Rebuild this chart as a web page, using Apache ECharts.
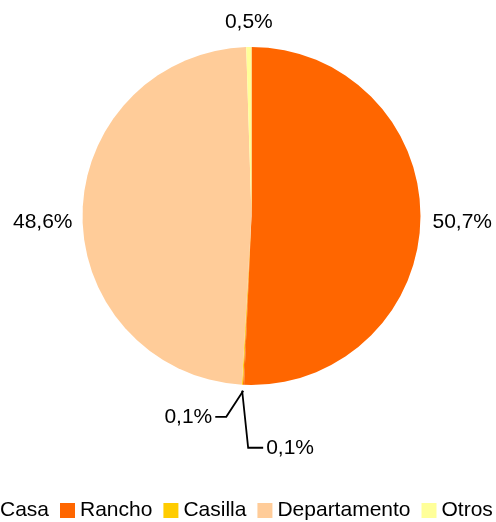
<!DOCTYPE html>
<html>
<head>
<meta charset="utf-8">
<script src="https://cdn.jsdelivr.net/npm/echarts@6/dist/echarts.min.js"></script>
<style>
  html, body { margin: 0; padding: 0; background: #fff; }
  #chart { width: 496px; height: 522px; }
</style>
</head>
<body>
<div id="chart"></div>
<script>
// tipo de vivienda (%)
var categorias = ['Casa', 'Rancho', 'Casilla', 'Departamento', 'Otros'];
var porcentajes = [50.7, 0.1, 0.1, 48.6, 0.5];
var colores = ['#FF6600', '#FF6600', '#FFCC00', '#FFCC99', '#FFFF99'];

var centro = [251.5, 216];
var radio = 169;

// punto en el borde, a la mitad del sector i
function puntoMedio(i, extra) {
  var total = 0, antes = 0;
  porcentajes.forEach(function (v, k) {
    total += v;
    if (k < i) antes += v;
  });
  var ang = (antes + porcentajes[i] / 2) / total * 2 * Math.PI;
  var r = radio + (extra || 0);
  return [centro[0] + r * Math.sin(ang), centro[1] - r * Math.cos(ang)];
}

var myChart = echarts.init(document.getElementById('chart'), null, { renderer: 'canvas' });

var datos = categorias.map(function (nombre, i) {
  var item = {
    name: nombre,
    value: porcentajes[i],
    itemStyle: { color: colores[i] }
  };
  // solo los sectores chicos llevan linea guia
  if (porcentajes[i] < 0.5) item.labelLine = { show: true };
  return item;
});

var option = {
  animation: false,
  textStyle: { fontFamily: 'Liberation Sans, Arial, sans-serif' },
  legend: {
    data: categorias,
    left: -25,
    top: 495,
    width: 600,
    icon: 'rect',
    itemWidth: 15,
    itemHeight: 15,
    itemGap: 11,
    selectedMode: false,
    textStyle: { fontSize: 21, color: '#000', fontFamily: 'Liberation Sans, Arial, sans-serif' }
  },
  series: [{
    type: 'pie',
    center: centro,
    radius: radio,
    startAngle: 90,
    clockwise: true,
    avoidLabelOverlap: false,
    silent: true,
    data: datos,
    label: {
      show: true,
      position: 'outside',
      color: '#000',
      fontSize: 21,
      fontFamily: 'Liberation Sans, Arial, sans-serif',
      formatter: function (p) {
        return p.value.toFixed(1).replace('.', ',') + '%';
      }
    },
    labelLine: {
      show: false,
      length: 4,
      length2: 4,
      lineStyle: { color: '#000', width: 1.8 }
    },
    labelLayout: function (params) {
      var i = params.dataIndex;
      var p = puntoMedio(i, 0);
      if (i === 0) return { x: p[0] + 12, y: p[1] + 2, align: 'left', verticalAlign: 'middle' };
      if (i === 3) return { x: p[0] - 10, y: p[1] + 8, align: 'right', verticalAlign: 'middle' };
      if (i === 4) return { x: p[0], y: p[1] - 25, align: 'center', verticalAlign: 'middle' };
      var a = puntoMedio(i, 6);
      var b, c;
      if (i === 1) {
        b = [a[0] - 17, a[1] + 26];
        c = [b[0] - 11, b[1]];
        return { x: c[0] - 3, y: c[1], align: 'right', verticalAlign: 'middle', labelLinePoints: [a, b, c] };
      }
      b = [a[0] + 6, a[1] + 57];
      c = [b[0] + 15, b[1]];
      return { x: c[0] + 3, y: c[1], align: 'left', verticalAlign: 'middle', labelLinePoints: [a, b, c] };
    }
  }]
};

myChart.setOption(option);
</script>
</body>
</html>
